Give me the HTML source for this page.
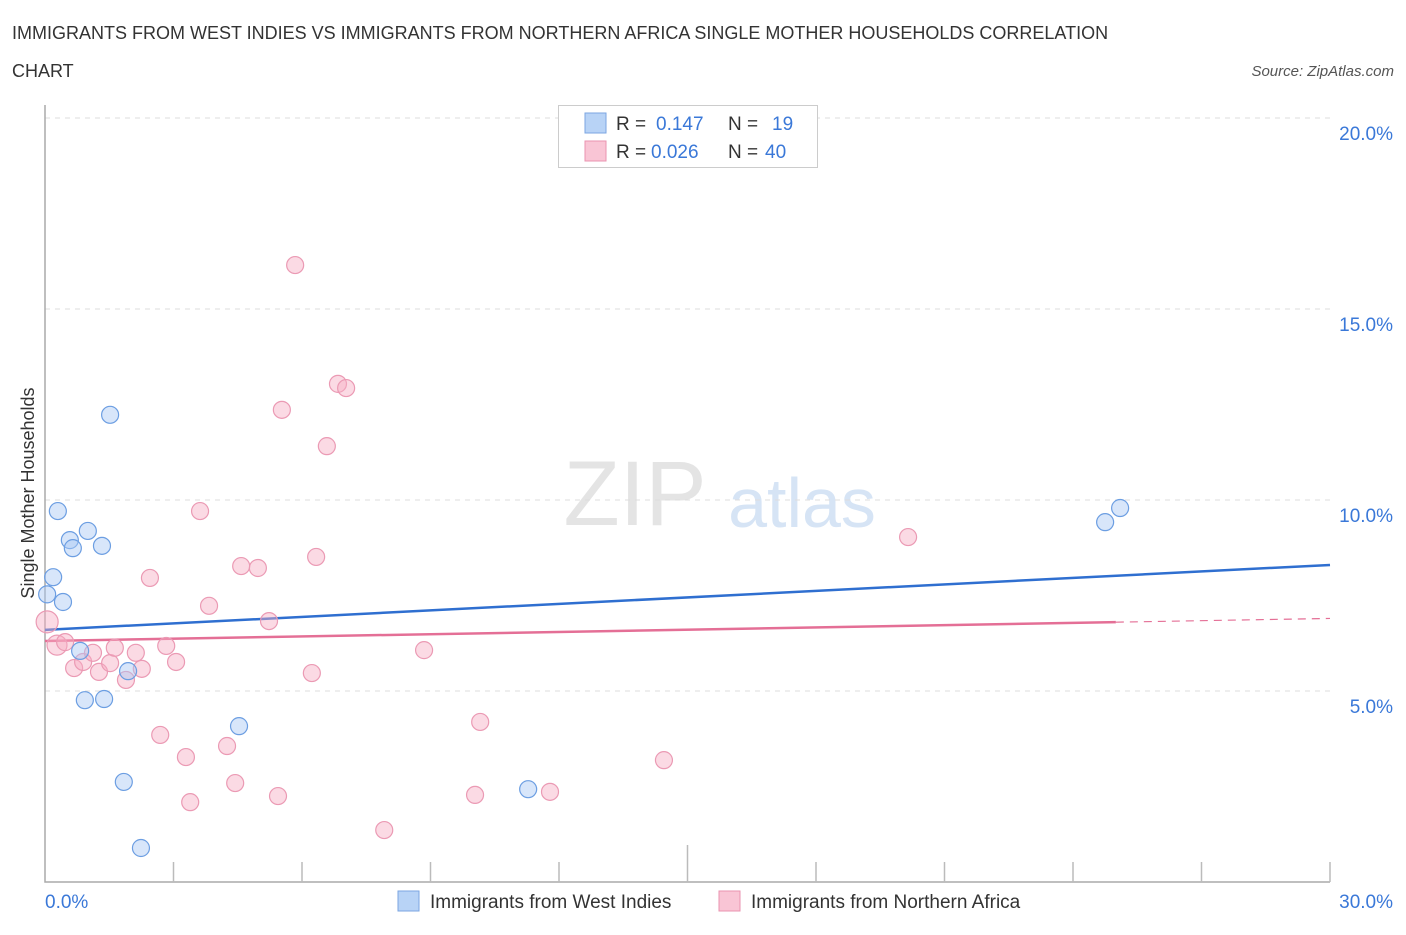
<!DOCTYPE html>
<html><head><meta charset="utf-8"><style>
body{margin:0;background:#fff;font-family:"Liberation Sans",sans-serif}
svg text{font-family:"Liberation Sans",sans-serif}
</style></head><body>
<svg id="chart" width="1406" height="930" xmlns="http://www.w3.org/2000/svg">
<text x="12" y="39" font-size="18" fill="#333">IMMIGRANTS FROM WEST INDIES VS IMMIGRANTS FROM NORTHERN AFRICA SINGLE MOTHER HOUSEHOLDS CORRELATION</text>
<text x="12" y="77" font-size="18" fill="#333">CHART</text>
<text x="1394" y="76" font-size="15" fill="#555" font-style="italic" text-anchor="end">Source: ZipAtlas.com</text>
<text x="635" y="525" font-size="92" fill="#e4e4e4" font-family="Liberation Serif" text-anchor="middle">ZIP</text>
<text x="802" y="527" font-size="70" fill="#d6e4f5" text-anchor="middle">atlas</text>
<g id="grid"></g>
<g id="axes"></g>
<g id="lines"></g>
<g id="points"></g>
<text transform="translate(34,493) rotate(-90)" font-size="18" fill="#333" text-anchor="middle">Single Mother Households</text>
<g>
<rect x="558.5" y="105.5" width="259" height="62" fill="#fff" stroke="#ccc"/>
<rect x="585" y="113" width="21" height="20" fill="#b8d3f6" stroke="#7ba6e2"/>
<rect x="585" y="141" width="21" height="20" fill="#f9c5d5" stroke="#ea93b0"/>
<text x="616" y="130" font-size="19" fill="#333">R = </text><text x="656" y="130" font-size="19" fill="#3a78d8">0.147</text>
<text x="728" y="130" font-size="19" fill="#333">N = </text><text x="772" y="130" font-size="19" fill="#3a78d8">19</text>
<text x="616" y="158" font-size="19" fill="#333">R = </text><text x="651" y="158" font-size="19" fill="#3a78d8">0.026</text>
<text x="728" y="158" font-size="19" fill="#333">N = </text><text x="765" y="158" font-size="19" fill="#3a78d8">40</text>
</g>
<g>
<rect x="398" y="891" width="21" height="20" fill="#b8d3f6" stroke="#7ba6e2"/>
<text x="430" y="908" font-size="19" fill="#333">Immigrants from West Indies</text>
<rect x="719" y="891" width="21" height="20" fill="#f9c5d5" stroke="#ea93b0"/>
<text x="751" y="908" font-size="19" fill="#333">Immigrants from Northern Africa</text>
</g>
</svg>
<script>
const xTicks=[0,30];
const yTicks=[5,10,15,20];
const blueX=[0.05,0.19,0.30,0.42,0.58,0.65,1.0,1.33,1.52,0.82,0.93,1.38,1.94,1.84,2.24,4.53,11.28,24.75,25.10];
const blueY=[7.53,7.98,9.71,7.33,8.95,8.74,9.19,8.80,12.23,6.05,4.76,4.79,5.52,2.62,0.89,4.08,2.43,9.42,9.79];
const pinkX=[0.05,0.28,0.47,0.68,0.89,1.12,1.26,1.52,1.63,1.89,2.12,2.26,2.45,2.69,2.83,3.06,3.29,3.39,3.62,3.83,4.25,4.44,4.58,4.97,5.23,5.44,5.53,5.84,6.23,6.33,6.58,6.84,7.03,7.92,8.85,10.04,10.16,11.79,14.45,20.15];
const pinkY=[6.81,6.20,6.28,5.60,5.76,6.0,5.50,5.73,6.13,5.29,6.0,5.58,7.96,3.85,6.18,5.76,3.27,2.09,9.71,7.23,3.56,2.59,8.27,8.22,6.83,2.25,12.36,16.15,5.47,8.51,11.41,13.04,12.93,1.36,6.07,2.28,4.19,2.36,3.19,9.03];
const pinkR=[11,10];
const blueTrend=[6.6,8.3];
const pinkTrend=[6.31,6.90];
const pinkSolidEnd=25;
const NS='http://www.w3.org/2000/svg';
const X0=45,X1=1330,Y0=882,Y20=118;
const sx=v=>X0+(X1-X0)*v/30;
const sy=v=>Y0-(Y0-Y20)*v/20;
function mk(tag,attrs,parent){const e=document.createElementNS(NS,tag);for(const k in attrs)e.setAttribute(k,attrs[k]);document.getElementById(parent).appendChild(e);return e;}
yTicks.forEach(t=>{
 const g=mk('line',{x1:X0,x2:X1,y1:sy(t),y2:sy(t),stroke:'#ddd','stroke-dasharray':'5,5'},'grid');
 
 
 const l=mk('text',{x:1393,y:sy(t)+22,'font-size':19,fill:'#3a78d8','text-anchor':'end'},'grid');l.textContent=t.toFixed(1)+'%';
 
 
});
const ax=mk('path',{d:`M${X0} 105V${Y0}H${X1}`,stroke:'#aaa',fill:'none','stroke-width':1.5},'axes');


for(let i=1;i<=10;i++){const v=i*3;const t=mk('line',{x1:sx(v),x2:sx(v),y1:i==5?845:862,y2:Y0,stroke:'#bbb','stroke-width':1.5},'axes');
 
 }
xTicks.forEach((t,i)=>{const l=mk('text',{x:i==0?45:1393,y:908,'font-size':19,fill:'#3a78d8','text-anchor':i==0?'start':'end'},'axes');l.textContent=t.toFixed(1)+'%';
 
 });
let ln=mk('line',{x1:sx(0),y1:sy(blueTrend[0]),x2:sx(30),y2:sy(blueTrend[1]),stroke:'#2f6fd0','stroke-width':2.5},'lines');


const pAt=v=>pinkTrend[0]+(pinkTrend[1]-pinkTrend[0])*v/30;
ln=mk('line',{x1:sx(0),y1:sy(pinkTrend[0]),x2:sx(pinkSolidEnd),y2:sy(pAt(pinkSolidEnd)),stroke:'#e46f96','stroke-width':2.5},'lines');


ln=mk('line',{x1:sx(pinkSolidEnd),y1:sy(pAt(pinkSolidEnd)),x2:sx(30),y2:sy(pinkTrend[1]),stroke:'#e46f96','stroke-width':1.2,'stroke-dasharray':'8,6'},'lines');


pinkX.forEach((x,i)=>{const c=mk('circle',{cx:sx(x),cy:sy(pinkY[i]),r:pinkR[i]||8.5,fill:'rgba(247,172,196,0.45)',stroke:'#eb9ab4','stroke-width':1.2},'points');
 
 });
blueX.forEach((x,i)=>{const c=mk('circle',{cx:sx(x),cy:sy(blueY[i]),r:8.5,fill:'rgba(168,200,243,0.45)',stroke:'#6c9ee2','stroke-width':1.2},'points');
 
 });
</script>
</body></html>
